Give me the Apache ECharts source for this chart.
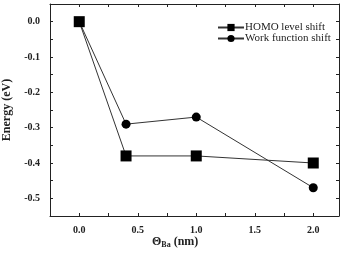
<!DOCTYPE html>
<html lang="en">
<head>
    <meta charset="UTF-8">
    <title>Energy shift vs Ba coverage</title>
    <script src="https://cdn.jsdelivr.net/npm/echarts@6/dist/echarts.min.js"></script>
    <style>
        html, body, #chart {
            width: 344px;
            height: 253px;
            padding: 0;
            margin: 0;
            background: #fff;
        }
    </style>
</head>
<body>
<div id="chart"></div>
<script>
    var coverage = [0.0, 0.4, 1.0, 2.0];
    var homoShift = [0.0, -0.38, -0.38, -0.40];
    var workShift = [0.0, -0.29, -0.27, -0.47];
    var xTicks = [0, 0.25, 0.5, 0.75, 1.0, 1.25, 1.5, 1.75, 2.0];
    var xLabels = [0, 0.5, 1.0, 1.5, 2.0];
    var yTicks = [0.05, 0, -0.05, -0.1, -0.15, -0.2, -0.25, -0.3, -0.35, -0.4, -0.45, -0.5, -0.55];
    var yLabels = [0, -0.1, -0.2, -0.3, -0.4, -0.5];

    var serif = "Liberation Serif";
    var ink = "#222";

    function pairs(xs, ys) {
        return xs.map(function (x, i) { return [x, ys[i]]; });
    }

    var myChart = echarts.init(document.getElementById("chart"));

    function xAxisDef(showLabels) {
        return {
            type: "value",
            min: -0.25,
            max: 2.22,
            position: showLabels ? "bottom" : "top",
            axisLine: {show: true, onZero: false, lineStyle: {color: ink, width: 1}},
            axisTick: {show: true, inside: true, length: 3, customValues: xTicks, lineStyle: {color: ink}},
            axisLabel: {
                show: showLabels,
                customValues: xLabels,
                formatter: function (v) { return v.toFixed(1); },
                fontFamily: serif,
                fontWeight: "bold",
                fontSize: 10,
                color: ink,
                margin: 9
            },
            splitLine: {show: false}
        };
    }

    function yAxisDef(showLabels) {
        return {
            type: "value",
            min: -0.55,
            max: 0.05,
            position: showLabels ? "left" : "right",
            name: showLabels ? "Energy (eV)" : "",
            nameLocation: "middle",
            nameGap: 35,
            nameTextStyle: {fontFamily: serif, fontWeight: "bold", fontSize: 12, color: ink},
            axisLine: {show: true, onZero: false, lineStyle: {color: ink, width: 1}},
            axisTick: {show: true, inside: true, length: 3, customValues: yTicks, lineStyle: {color: ink}},
            axisLabel: {
                show: showLabels,
                customValues: yLabels,
                formatter: function (v) { return v.toFixed(1); },
                fontFamily: serif,
                fontWeight: "bold",
                fontSize: 10,
                color: ink,
                margin: 10
            },
            splitLine: {show: false}
        };
    }

    myChart.setOption({
        animation: false,
        backgroundColor: "#fff",
        grid: {left: 50, right: 5, top: 4, bottom: 37, containLabel: false, outerBoundsMode: "none"},
        xAxis: [xAxisDef(true), xAxisDef(false)],
        yAxis: [yAxisDef(true), yAxisDef(false)],
        legend: {
            orient: "vertical",
            left: 212,
            top: 17,
            itemWidth: 26,
            itemHeight: 9,
            itemGap: 0,
            textStyle: {fontFamily: serif, fontSize: 11, color: ink, padding: [0, 0, 0, -4]},
            data: ["HOMO level shift", "Work function shift"]
        },
        graphic: [{
            type: "text",
            left: 152,
            top: 236,
            style: {
                text: "{t|Θ}{s|Ba}{t| (nm)}",
                rich: {
                    t: {fontFamily: serif, fontWeight: "bold", fontSize: 12, fill: ink},
                    s: {fontFamily: serif, fontWeight: "bold", fontSize: 8, fill: ink, verticalAlign: "bottom", padding: [6, 0, 0, 0]}
                }
            }
        }],
        series: [{
            name: "HOMO level shift",
            type: "line",
            data: pairs(coverage, homoShift),
            symbol: "rect",
            symbolSize: 11,
            itemStyle: {color: "#000"},
            lineStyle: {color: "#333", width: 1}
        }, {
            name: "Work function shift",
            type: "line",
            data: pairs(coverage, workShift),
            symbol: "circle",
            symbolSize: 9,
            itemStyle: {color: "#000"},
            lineStyle: {color: "#333", width: 1}
        }]
    });
</script>
</body>
</html>
